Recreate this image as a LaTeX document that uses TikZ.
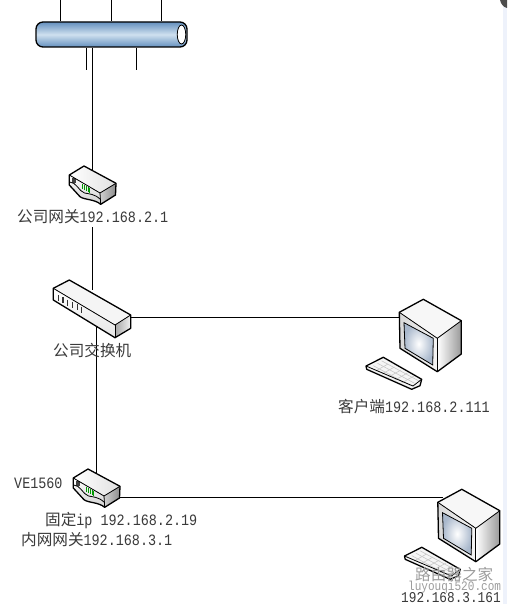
\documentclass[tikz,border=0pt]{standalone}
\usepackage{xcolor}
\usepackage{fontspec}
\setmonofont[FakeStretch=0.85]{Liberation Mono}
\newfontfamily\cjkfont{Noto Sans CJK SC}
\usepackage{tikz}
\usetikzlibrary{shapes.geometric}
\definecolor{tubeBlue}{HTML}{6490BE}
\definecolor{tubeLight}{HTML}{CFE0EF}
\definecolor{labelGrey}{HTML}{3A3A3A}
\definecolor{markGrey}{HTML}{9C9C9C}
\definecolor{stripBlue}{HTML}{EEF2FB}
\definecolor{screenBlue}{HTML}{A9B8CC}
\newcommand{\zh}[1]{{\cjkfont\fontsize{15.6}{16}\selectfont #1}}
\tikzset{
  link/.style={line width=1pt, draw=black},
  edgeline/.style={line width=1.3pt, line join=round, draw=black},
  lbl/.style={font=\fontsize{15.8}{16}\selectfont\ttfamily, text=labelGrey, inner sep=0pt, anchor=west},
  routerIcon/.pic={
    \fill[left color=white, right color=black!12] (-8.5,-19) -- (23.5,-1.7) -- (7.5,8) -- (-23.2,-10) -- cycle;
    \fill[top color=white, bottom color=black!18] (-23.2,-10) -- (7.5,8) -- (8.2,19.3) .. controls (2,14) and (-8,15) .. (-12.5,11.7) -- (-23.2,0) -- cycle;
    \fill[left color=black!18, right color=black!45] (7.5,8) -- (23.5,-1.7) -- (23,10) -- (8.2,19.3) -- cycle;
    \fill[black!75] (-21,-7) rectangle (-17,-2);
    \foreach \k in {0,...,4}
      \draw[green!60!black, line width=0.8pt] (-10+1.8*\k,-1+1*\k) -- ++(0,5);
    \draw[line width=0.8pt] (-23,-3) .. controls (-16,-3) and (-14,6) .. (-8,8) .. controls (-3,9) and (2,9) .. (7.5,14);
    \draw[edgeline] (-8.5,-19) -- (23.5,-1.7) -- (23,10) -- (8.2,19.3) .. controls (2,14) and (-8,15) .. (-12.5,11.7) -- (-23.2,0) -- (-23.2,-10) -- cycle;
    \draw[line width=0.8pt] (-23.2,-10) -- (7.5,8) -- (23.5,-1.7);
    \draw[line width=0.8pt] (7.5,8) -- (8.2,19.3);
  },
  switchIcon/.pic={
    \fill[black!4] (-22.7,-28) -- (38.7,7) -- (23,17) -- (-38.7,-19.7) -- cycle;
    \fill[top color=white, bottom color=black!10] (-38.7,-19.7) -- (23,17) -- (23,29.7) -- (-38.7,-8) -- cycle;
    \fill[left color=black!35, right color=black!5] (23,17) -- (38.7,7) -- (38.7,20.3) -- (23,29.7) -- cycle;
    \foreach \k in {0,...,5}
      \draw[black!80, line width=1.2pt] (-33.7+4.7*\k,-13+2.3*\k) -- ++(0,6);
    \draw[edgeline] (-22.7,-28) -- (38.7,7) -- (38.7,20.3) -- (23,29.7) -- (-38.7,-8) -- (-38.7,-19.7) -- cycle;
    \draw[line width=0.8pt] (-38.7,-19.7) -- (23,17) -- (38.7,7);
    \draw[line width=0.8pt] (23,17) -- (23,29.7);
  },
  pcIcon/.pic={
    \fill[black!3] (-6.7,-35.7) -- (31.3,-14.3) -- (7.3,3.3) -- (-30.7,-22.7) -- cycle;
    \fill[left color=black!15, right color=black!4] (-30.7,-22.7) -- (7.3,3.3) -- (7.3,36.7) -- (-30,13.3) -- cycle;
    \fill[left color=white, right color=black!40] (7.3,3.3) -- (31.3,-14.3) -- (31.3,19) -- (7.3,36.7) -- cycle;
    \draw[line width=0.8pt, inner color=white, outer color=screenBlue] (-26,-12.3) -- (3.3,3.3) -- (2.7,30) -- (-25,13.3) -- cycle;
    \draw[edgeline] (-6.7,-35.7) -- (31.3,-14.3) -- (31.3,19) -- (7.3,36.7) -- (-30,13.3) -- (-30.7,-22.7) -- cycle;
    \draw[line width=0.8pt] (-30.7,-22.7) -- (7.3,3.3) -- (31.3,-14.3);
    \draw[line width=0.8pt] (7.3,3.3) -- (7.3,36.7);
    % keyboard
    \fill[black!4] (-46.7,22.3) -- (-8.3,44.3) -- (-10,50.7) -- (-18.3,54.3) -- (-63.3,34.3) -- (-64,31) -- cycle;
    \foreach \k in {1,2,3}
      \draw[black!22, line width=0.6pt] (-61+4.2*\k,33-2.4*\k) -- ++(37,20);
    \foreach \k in {1,...,5}
      \draw[black!22, line width=0.6pt] (-61+6.5*\k,33+3*\k) -- ++(12.5,-7);
    \draw[edgeline] (-46.7,22.3) -- (-8.3,44.3) -- (-10,50.7) -- (-18.3,54.3) -- (-63.3,34.3) -- (-64,31) -- cycle;
    \draw[line width=0.8pt] (-64,31) -- (-17,51) -- (-8.3,44.3);
  }
}

\begin{document}
\begin{tikzpicture}[x=1pt, y=-1pt]
  \useasboundingbox (0,0) rectangle (507,604);
  \fill[white] (0,0) rectangle (507,604);
  % window edge
  \fill[stripBlue] (502.5,0) rectangle (507,604);
  \fill[black!70] (500,0) -- (507,0) -- (507,8) .. controls (503,7) and (501,4) .. (500,0) -- cycle;

  % devices
  \coordinate (routerA) at (92.5,185);
  \coordinate (switchA) at (92,308);
  \coordinate (routerB) at (96.5,488);
  \coordinate (pcA) at (430,335);
  \coordinate (pcB) at (468.5,525);
  \coordinate (switchTop) at (92.5,290);
  \coordinate (switchBottom) at (96.5,325);
  \coordinate (switchRight) at (131,317.7);
  \coordinate (routerRight) at (118,497);
  \coordinate (pcALeft) at (400,317.7);
  \coordinate (pcBLeft) at (443,497);

  % backbone
  \node[rectangle, rounded corners=7pt, edgeline, minimum width=151pt, minimum height=25pt, inner sep=0pt,
    top color=tubeBlue, bottom color=tubeBlue, middle color=tubeLight] (bus) at (111.5,34.5) {};
  \node[ellipse, draw=black, line width=0.8pt, fill=white, minimum width=8.5pt, minimum height=19pt, inner sep=0pt] (busEnd) at (181.5,34.5) {};
  \foreach \x in {60.5,111.5,161.5} {
    \coordinate (stub) at (\x,0);
    \draw[link] (stub) -- (stub |- bus.north);
  }
  \foreach \x in {86.5,136.5} {
    \coordinate (stub) at (\x,70);
    \draw[link] (stub) -- (stub |- bus.south);
  }

  % links
  \draw[link] (bus.south -| routerA) -- (routerA);
  \node[lbl, fill=white, minimum height=20pt] (gwLabel) at (17,217) {\zh{公司网关}192.168.2.1};
  \draw[link] (gwLabel.south -| switchTop) -- (switchTop);
  \draw[link] (switchBottom) -- (routerB);
  \draw[link] (switchRight) -- (pcALeft);
  \draw[link] (routerRight) -- (pcBLeft);

  \pic at (routerA) {routerIcon};
  \pic at (routerB) {routerIcon};
  \pic at (switchA) {switchIcon};
  \pic at (pcA) {pcIcon};
  \pic at (pcB) {pcIcon};

  % labels
  \node[lbl] (switchLabel) at (53,351) {\zh{公司交换机}};
  \node[lbl] (pcALabel) at (338,407) {\zh{客户端}192.168.2.111};
  \node[lbl] (modelLabel) at (14,483) {VE1560};
  \node[lbl] (fixedLabel) at (45,521) {\zh{固定}ip 192.168.2.19};
  \node[lbl] (lanLabel) at (21,540) {\zh{内网网关}192.168.3.1};

  % watermark
  \node[lbl, text=markGrey] (markCn) at (415,575) {\zh{路由器之家}};
  \node[lbl, text=markGrey, font=\fontsize{13}{14}\selectfont\ttfamily] (markEn) at (408,587) {luyouqi520.com};
  \node[lbl, font=\fontsize{15}{16}\selectfont\ttfamily] (pcBLabel) at (401,597.5) {192.168.3.161};
\end{tikzpicture}
\end{document}
